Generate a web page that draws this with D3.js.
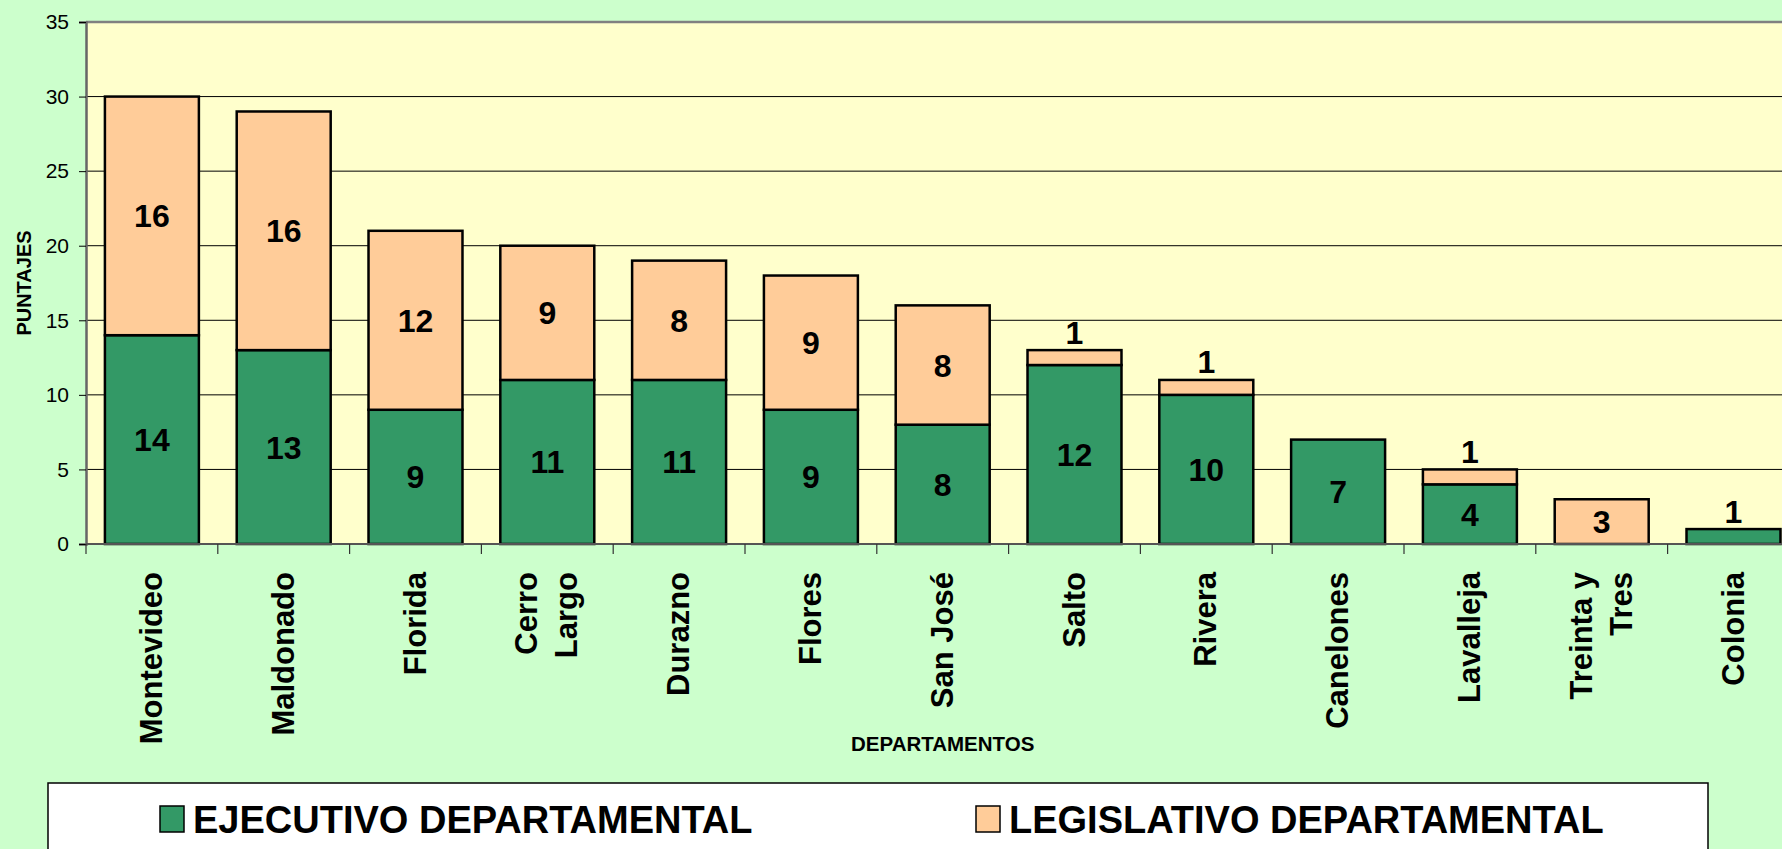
<!DOCTYPE html>
<meta charset="utf-8">
<style>
body {
  margin: 0;
  background: #ccffcc;
  font-family: "Liberation Sans", Arial, sans-serif;
}
svg { display: block; }
.grid line { stroke: #000; stroke-width: 1; }
.bar { stroke: #000; stroke-width: 2.5; }
</style>
<body>
<script src="https://cdn.jsdelivr.net/npm/d3@7"></script>
<script>

var width = 1782,
    height = 849;

var categories = [["Montevideo"], ["Maldonado"], ["Florida"], ["Cerro", "Largo"], ["Durazno"],
  ["Flores"], ["San José"], ["Salto"], ["Rivera"], ["Canelones"], ["Lavalleja"],
  ["Treinta y", "Tres"], ["Colonia"]];
var ejecutivo   = [14, 13, 9, 11, 11, 9, 8, 12, 10, 7, 4, 0, 1];
var legislativo = [16, 16, 12, 9, 8, 9, 8, 1, 1, 0, 1, 3, 0];
var seriesNames = ["EJECUTIVO DEPARTAMENTAL", "LEGISLATIVO DEPARTAMENTAL"];
var seriesColors = ["#339966", "#ffcc99"];
var yTicks = [0, 5, 10, 15, 20, 25, 30, 35];

var plot = {left: 86, top: 22, bottom: 544, step: 131.8};
var keys = categories.map(function(d) { return d.join(" "); });

var svg = d3.select("body").append("svg")
    .attr("width", width)
    .attr("height", height);

var x = d3.scaleBand()
    .domain(keys)
    .range([plot.left, plot.left + plot.step * keys.length])
    .paddingInner(0.287)
    .paddingOuter(0.1435);

var y = d3.scaleLinear()
    .domain([0, 35])
    .range([plot.bottom, plot.top]);

// plot area
svg.append("rect")
    .attr("x", plot.left)
    .attr("y", plot.top)
    .attr("width", x.range()[1] - plot.left)
    .attr("height", plot.bottom - plot.top)
    .attr("fill", "#ffffcc");

svg.append("g")
    .attr("class", "grid")
  .selectAll("line")
    .data(yTicks.filter(function(t) { return t > 0 && t < 35; }))
  .enter().append("line")
    .attr("x1", plot.left)
    .attr("x2", width)
    .attr("y1", function(d) { return y(d); })
    .attr("y2", function(d) { return y(d); });

svg.append("line")
    .attr("x1", plot.left).attr("x2", width)
    .attr("y1", y(35)).attr("y2", y(35))
    .attr("stroke", "#808080").attr("stroke-width", 2.5);

// stacked data
var rows = keys.map(function(k, i) {
  return {key: k, ejecutivo: ejecutivo[i], legislativo: legislativo[i]};
});
var stack = d3.stack().keys(["ejecutivo", "legislativo"])(rows);

var layer = svg.selectAll(".layer")
    .data(stack)
  .enter().append("g")
    .attr("class", "layer")
    .attr("fill", function(d, i) { return seriesColors[i]; });

layer.selectAll("rect")
    .data(function(d) { return d.filter(function(s) { return s[1] > s[0]; }); })
  .enter().append("rect")
    .attr("class", "bar")
    .attr("x", function(d) { return x(d.data.key); })
    .attr("width", x.bandwidth())
    .attr("y", function(d) { return y(d[1]); })
    .attr("height", function(d) { return y(d[0]) - y(d[1]); });

// value labels (single points sit above the bar)
var labels = [];
stack.forEach(function(s) {
  s.forEach(function(d, j) {
    var v = d[1] - d[0];
    if (v <= 0) return;
    var top = d3.max(stack, function(t) { return t[j][1]; });
    var cy = v > 1 ? (y(d[0]) + y(d[1])) / 2 : y(top) - 18;
    labels.push({x: x(d.data.key) + x.bandwidth() / 2, y: cy, v: v});
  });
});

svg.append("g")
  .selectAll("text")
    .data(labels)
  .enter().append("text")
    .attr("x", function(d) { return d.x; })
    .attr("y", function(d) { return d.y; })
    .attr("dy", "0.36em")
    .attr("text-anchor", "middle")
    .style("font-size", "32px")
    .style("font-weight", "bold")
    .text(function(d) { return d.v; });

// y axis
var yAxis = svg.append("g")
    .attr("transform", "translate(" + plot.left + ",0)")
    .call(d3.axisLeft(y).tickValues(yTicks).tickSize(7).tickPadding(10));
yAxis.select(".domain").attr("stroke", "#666").attr("stroke-width", 2.5);
yAxis.selectAll(".tick line").attr("stroke", "#000");
yAxis.selectAll("text")
    .style("font-size", "21px")
    .style("font-family", "'Liberation Sans', Arial, sans-serif")
    .attr("fill", "#000");

// x axis
svg.append("line")
    .attr("x1", plot.left).attr("x2", width)
    .attr("y1", plot.bottom).attr("y2", plot.bottom)
    .attr("stroke", "#555").attr("stroke-width", 2);

svg.append("g")
  .selectAll("line")
    .data(d3.range(keys.length + 1))
  .enter().append("line")
    .attr("x1", function(i) { return plot.left + i * x.step(); })
    .attr("x2", function(i) { return plot.left + i * x.step(); })
    .attr("y1", plot.bottom)
    .attr("y2", plot.bottom + 10)
    .attr("stroke", "#333")
    .attr("stroke-width", 1.2);

var catLabel = svg.append("g")
  .selectAll("g")
    .data(categories)
  .enter().append("g")
    .attr("transform", function(d, i) {
      return "translate(" + (x(keys[i]) + x.bandwidth() / 2) + ",572) rotate(-90)";
    })
  .append("text")
    .attr("text-anchor", "end")
    .style("font-size", "31px")
    .style("font-weight", "bold");

catLabel.selectAll("tspan")
    .data(function(d) { return d.map(function(t, j) { return {t: t, j: j, n: d.length}; }); })
  .enter().append("tspan")
    .attr("x", 0)
    .attr("y", function(d) { return 10 + (d.j - (d.n - 1) / 2) * 40; })
    .text(function(d) { return d.t; });

svg.append("text")
    .attr("x", plot.left + (x.range()[1] - plot.left) / 2)
    .attr("y", 751)
    .attr("text-anchor", "middle")
    .style("font-size", "20.5px")
    .style("font-weight", "bold")
    .text("DEPARTAMENTOS");

svg.append("text")
    .attr("transform", "translate(31," + ((plot.top + plot.bottom) / 2) + ") rotate(-90)")
    .attr("text-anchor", "middle")
    .style("font-size", "20px")
    .style("font-weight", "bold")
    .text("PUNTAJES");

// legend
svg.append("rect")
    .attr("x", 48)
    .attr("y", 783)
    .attr("width", 1660)
    .attr("height", 100)
    .attr("fill", "#fff")
    .attr("stroke", "#000")
    .attr("stroke-width", 1.5);

var legend = svg.selectAll(".legend")
    .data(seriesNames)
  .enter().append("g")
    .attr("class", "legend")
    .attr("transform", function(d, i) { return "translate(" + [160, 976][i] + ",806)"; });

legend.append("rect")
    .attr("width", 24)
    .attr("height", 26)
    .attr("fill", function(d, i) { return seriesColors[i]; })
    .attr("stroke", "#000")
    .attr("stroke-width", 1.5);

legend.append("text")
    .attr("x", 33)
    .attr("y", 27)
    .style("font-size", "38px")
    .style("font-weight", "bold")
    .text(function(d) { return d; });

</script>
